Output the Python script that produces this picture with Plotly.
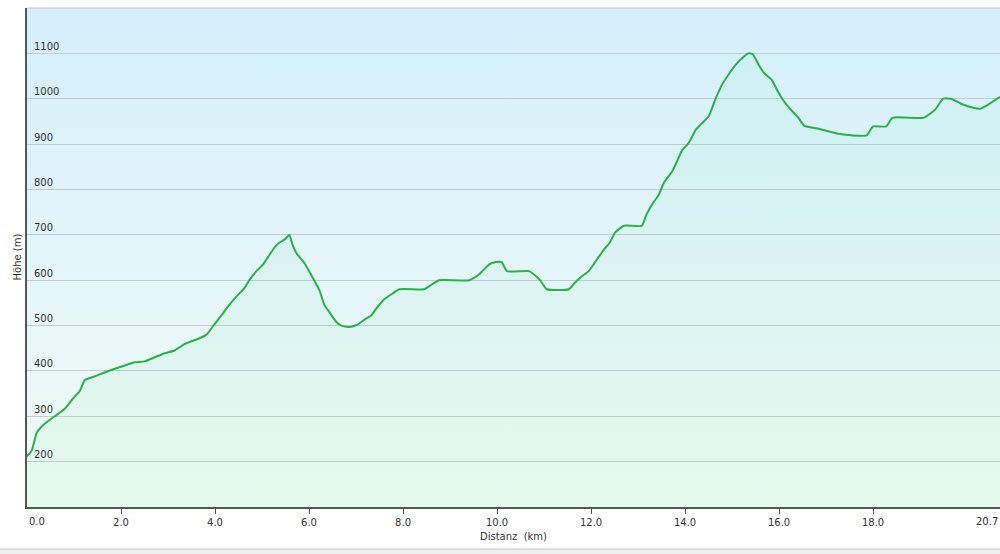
import base64
import plotly.graph_objects as go

# Elevation profile (distance km, elevation m)
dist_km = [0.0, 0.1, 0.21, 0.38, 0.59, 0.81, 0.96, 1.13, 1.23, 1.44, 1.76, 2.08, 2.29, 2.5,
           2.72, 2.93, 3.14, 3.35, 3.67, 3.82, 3.99, 4.14, 4.27, 4.42, 4.63, 4.73, 4.9,
           5.01, 5.16, 5.27, 5.37, 5.5, 5.58, 5.65, 5.73, 5.9, 6.05, 6.22, 6.33, 6.43,
           6.58, 6.69, 6.86, 7.03, 7.18, 7.32, 7.45, 7.6, 7.77, 7.92, 8.45, 8.56, 8.77,
           9.41, 9.62, 9.85, 9.98, 10.1, 10.21, 10.68, 10.85, 10.93, 11.06, 11.53, 11.66,
           11.8, 11.95, 12.12, 12.27, 12.4, 12.51, 12.7, 13.08, 13.18, 13.33, 13.44, 13.55,
           13.72, 13.82, 13.93, 14.08, 14.23, 14.35, 14.5, 14.65, 14.78, 14.93, 15.07,
           15.24, 15.35, 15.44, 15.56, 15.67, 15.84, 15.99, 16.14, 16.31, 16.41, 16.54,
           16.84, 17.26, 17.58, 17.86, 18.0, 18.28, 18.41, 19.07, 19.32, 19.49, 19.66,
           19.87, 20.13, 20.28, 20.45, 20.7]
elev_m = [212, 224, 264, 284, 300, 317, 337, 357, 380, 388, 401, 412, 419, 421,
          430, 439, 445, 459, 472, 480, 503, 523, 541, 560, 583, 600, 622,
          633, 656, 673, 683, 691, 700, 678, 660, 638, 611, 578, 545, 530,
          508, 500, 497, 502, 513, 522, 540, 558, 570, 580, 580, 587, 600,
          600, 613, 636, 640, 640, 620, 620, 607, 598, 580, 580, 595,
          608, 620, 645, 667, 683, 705, 720, 720, 745, 772, 788, 815,
          839, 860, 885, 903, 932, 945, 961, 1000, 1030, 1054, 1074,
          1092, 1100, 1098, 1076, 1058, 1042, 1013, 989, 969, 958, 940,
          934, 923, 919, 919, 939, 939, 958, 958, 976, 1000, 1000,
          989, 980, 978, 987, 1004]

x_tick_vals = [0, 2, 4, 6, 8, 10, 12, 14, 16, 18]
x_tick_text = ["", "2.0", "4.0", "6.0", "8.0", "10.0", "12.0", "14.0", "16.0", "18.0"]
x_end_labels = ["0.0", "20.7"]
y_tick_vals = [200, 300, 400, 500, 600, 700, 800, 900, 1000, 1100]
x_range = [0, 20.7]
y_range = [100, 1200]
x_title = "Distanz\u00a0 (km)"
y_title = "Höhe (m)"

FONT = "DejaVu Sans"
TXT = "#333333"

svg = ('<svg xmlns="http://www.w3.org/2000/svg" width="100" height="100" preserveAspectRatio="none">'
       '<defs><linearGradient id="g" x1="0" y1="0" x2="0" y2="1">'
       '<stop offset="0" stop-color="#d3effa"/><stop offset="0.5" stop-color="#e4f6fa"/>'
       '<stop offset="1" stop-color="#f0fcf4"/></linearGradient></defs>'
       '<rect width="100" height="100" fill="url(#g)"/></svg>')
bg_src = "data:image/svg+xml;base64," + base64.b64encode(svg.encode()).decode()

fig = go.Figure()
fig.add_trace(go.Scatter(
    x=dist_km, y=elev_m, mode="lines",
    line=dict(color="#2bb04c", width=2, shape="spline", smoothing=0.5),
    fill="tozeroy", fillcolor="rgba(110,230,170,0.08)",
    hoverinfo="skip", showlegend=False,
))

fig.update_layout(
    width=1000, height=554,
    margin=dict(l=27, r=0, t=8, b=47),
    paper_bgcolor="white", plot_bgcolor="rgba(0,0,0,0)",
    font=dict(family=FONT, size=10, color=TXT),
    images=[dict(source=bg_src, xref="paper", yref="paper", x=0, y=1, sizex=1, sizey=1,
                 xanchor="left", yanchor="top", sizing="stretch", layer="below")],
    xaxis=dict(
        range=x_range, tickvals=x_tick_vals, ticktext=x_tick_text, automargin=False,
        ticks="outside", ticklen=5, tickcolor="#555555", tickwidth=1,
        showline=True, linecolor="#555555", linewidth=2,
        showgrid=False, zeroline=False,
        tickfont=dict(family=FONT, size=10, color=TXT),
        title=dict(text=x_title, font=dict(family=FONT, size=10, color=TXT), standoff=6),
    ),
    yaxis=dict(
        range=y_range, tickvals=y_tick_vals, automargin=False,
        ticklabelposition="inside top", ticks="", ticklabelstandoff=5,
        showline=True, linecolor="#555555", linewidth=2,
        showgrid=True, gridcolor="#c2cdd2", gridwidth=1, zeroline=False,
        tickfont=dict(family=FONT, size=10, color=TXT),
    ),
    shapes=[
        dict(type="line", xref="paper", yref="paper", x0=0, x1=1, y0=1, y1=1,
             line=dict(color="#c8c8c8", width=1)),
        dict(type="rect", xref="paper", yref="paper", x0=-0.03, x1=1.0, y0=-0.0842, y1=-0.1,
             line=dict(width=0), fillcolor="#efefef"),
        dict(type="line", xref="paper", yref="paper", x0=-0.03, x1=1.0, y0=-0.0842, y1=-0.0842,
             line=dict(color="#c4c4c4", width=1)),
    ],
    annotations=[
        dict(text=x_end_labels[0], x=x_range[0], xref="x", y=0, yref="paper",
             xanchor="left", yanchor="top", yshift=-7, showarrow=False,
             font=dict(family=FONT, size=10, color=TXT)),
        dict(text=x_end_labels[1], x=x_range[1], xref="x", y=0, yref="paper",
             xanchor="right", yanchor="top", yshift=-7, showarrow=False,
             font=dict(family=FONT, size=10, color=TXT)),
        dict(text=y_title, x=0, xref="paper", y=0.5, yref="paper", textangle=-90,
             xanchor="center", yanchor="middle", xshift=-10, showarrow=False,
             font=dict(family=FONT, size=10, color=TXT)),
    ],
)

fig.write_html("out.html", config={"displayModeBar": False, "staticPlot": True},
               post_script="document.body.style.margin='0';document.body.style.overflow='hidden';")
